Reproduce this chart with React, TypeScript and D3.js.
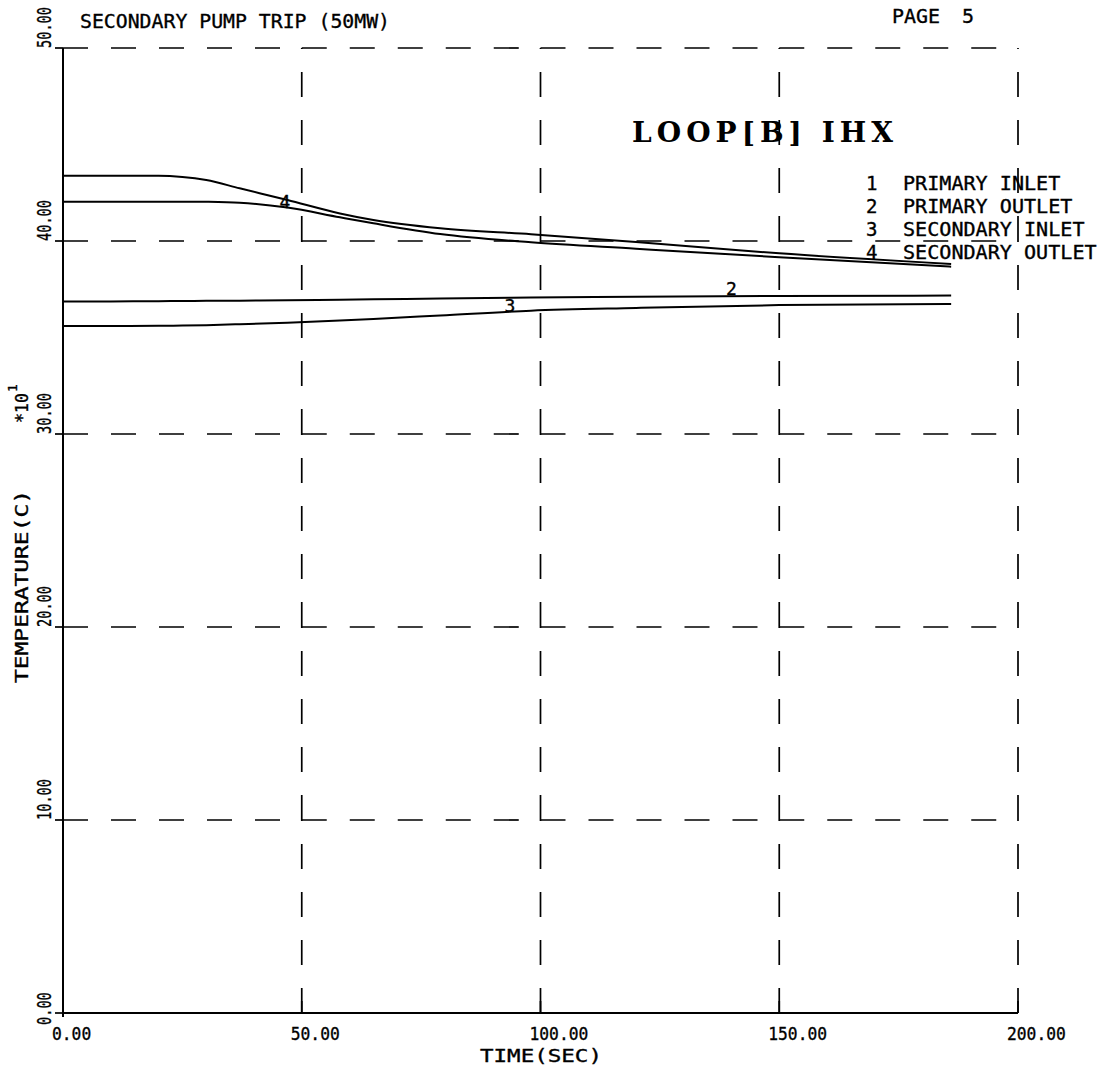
import React from 'react';
import * as d3 from 'd3';

// ---- data ----
const timeSec = [0, 10, 20, 25, 30, 37, 47, 58, 65, 79, 98, 120, 150, 186];
const primaryInlet = [43.38, 43.38, 43.38, 43.32, 43.16, 42.73, 42.12, 41.43, 41.09, 40.66, 40.35, 39.95, 39.36, 38.81];
const primaryOutlet = [36.86, 36.87, 36.88, 36.89, 36.9, 36.91, 36.93, 36.96, 36.98, 37.02, 37.07, 37.11, 37.15, 37.17];
const secondaryInlet = [35.6, 35.6, 35.61, 35.62, 35.64, 35.69, 35.77, 35.88, 35.96, 36.14, 36.39, 36.53, 36.68, 36.74];
const secondaryOutlet = [42.04, 42.04, 42.04, 42.04, 42.03, 41.98, 41.73, 41.23, 40.92, 40.36, 39.93, 39.6, 39.16, 38.67];

const xTicks = [0, 50, 100, 150, 200];
const yTicks = [0, 10, 20, 30, 40, 50];
const xTickLabels = ['0.00', '50.00', '100.00', '150.00', '200.00'];
const yTickLabels = ['0.00', '10.00', '20.00', '30.00', '40.00', '50.00'];
const legendNumbers = ['1', '2', '3', '4'];
const legendNames = ['PRIMARY INLET', 'PRIMARY OUTLET', 'SECONDARY INLET', 'SECONDARY OUTLET'];
const curveLabelText = ['4', '3', '2'];
const curveLabelTime = [46.5, 93.6, 140];
const curveLabelValue = [42.07, 36.68, 37.56];

const titleText = 'SECONDARY PUMP TRIP (50MW)';
const pageText = 'PAGE';
const pageNum = '5';
const plotTitle = 'LOOP[B] IHX';
const xTitle = 'TIME(SEC)';
const yTitle = 'TEMPERATURE(C)';

const W = 1100;
const H = 1068;
const FONT = "'DejaVu Sans Mono', 'Liberation Mono', monospace";
const TXT = { fontFamily: FONT, fill: '#000', stroke: '#000', strokeWidth: 0.35 } as const;

export default function App() {
  const x = d3.scaleLinear().domain([0, 200]).range([63, 1018]);
  const y = d3.scaleLinear().domain([0, 50]).range([1013, 48]);

  const series = [primaryInlet, primaryOutlet, secondaryInlet, secondaryOutlet];
  const line = d3
    .line<number>()
    .x((_, i) => x(timeSec[i]))
    .y((d) => y(d))
    .curve(d3.curveMonotoneX);

  const dash = '25 23';
  const grid: JSX.Element[] = [];
  yTicks.slice(1).forEach((v) => {
    for (let k = 0; k < xTicks.length - 1; k++) {
      grid.push(
        <line
          key={`h${v}-${k}`}
          x1={x(xTicks[k])}
          x2={x(xTicks[k + 1])}
          y1={y(v)}
          y2={y(v)}
          stroke="#000"
          strokeWidth={1.7}
          strokeDasharray={dash}
        />
      );
    }
  });
  xTicks.slice(1).forEach((t) => {
    for (let k = 0; k < yTicks.length - 1; k++) {
      grid.push(
        <line
          key={`v${t}-${k}`}
          x1={x(t)}
          x2={x(t)}
          y1={y(yTicks[k])}
          y2={y(yTicks[k + 1])}
          stroke="#000"
          strokeWidth={1.7}
          strokeDasharray={dash}
        />
      );
    }
  });

  return (
    <svg
      width={W}
      height={H}
      viewBox={`0 0 ${W} ${H}`}
      style={{ position: 'absolute', left: 0, top: 0, background: '#fff' }}
    >
      <rect width={W} height={H} fill="#fff" />
      {grid}

      {/* axes */}
      <line x1={x(0)} x2={x(0)} y1={y(0) + 4} y2={y(50)} stroke="#000" strokeWidth={2} />
      <line x1={x(0)} x2={x(200)} y1={y(0)} y2={y(0)} stroke="#000" strokeWidth={2} />
      {yTicks.map((v) => (
        <line key={`yt${v}`} x1={x(0) - 8} x2={x(0)} y1={y(v)} y2={y(v)} stroke="#000" strokeWidth={1.7} />
      ))}
      {xTicks.map((t) => (
        <line key={`xt${t}`} x1={x(t)} x2={x(t)} y1={y(0)} y2={y(0) - 12} stroke="#000" strokeWidth={1.7} />
      ))}

      {/* y tick labels (rotated) */}
      {yTicks.map((v, i) => (
        <text
          key={`yl${v}`}
          transform={`translate(51, ${y(v) + (v === 0 ? 12 : 0)}) rotate(-90)`}
          {...TXT}
          fontSize={19}
          textLength={yTickLabels[i].length * 8.2}
          lengthAdjust="spacingAndGlyphs"
        >
          {yTickLabels[i]}
        </text>
      ))}

      {/* x tick labels */}
      {xTicks.map((t, i) => (
        <text
          key={`xl${t}`}
          x={x(t) - 11}
          y={1040}
          {...TXT}
          fontSize={18}
          textLength={xTickLabels[i].length * 9.8}
          lengthAdjust="spacingAndGlyphs"
        >
          {xTickLabels[i]}
        </text>
      ))}

      {/* axis titles */}
      <text x={480} y={1062} {...TXT} fontSize={18} textLength={122} lengthAdjust="spacingAndGlyphs">
        {xTitle}
      </text>
      <g transform="translate(28, 683) rotate(-90)">
        <text x={0} y={0} {...TXT} fontSize={18} textLength={193} lengthAdjust="spacingAndGlyphs">
          {yTitle}
        </text>
        <text x={260} y={0} {...TXT} fontSize={18} textLength={30} lengthAdjust="spacingAndGlyphs">
          *10
        </text>
        <text x={291} y={-11} {...TXT} fontSize={13}>
          1
        </text>
      </g>

      {/* curves */}
      {series.map((s, i) => (
        <path key={`s${i}`} d={line(s) || ''} fill="none" stroke="#000" strokeWidth={2} />
      ))}
      {curveLabelText.map((c, i) => (
        <text
          key={`cl${i}`}
          x={x(curveLabelTime[i])}
          y={y(curveLabelValue[i])}
          dominantBaseline="central"
          textAnchor="middle"
          {...TXT}
          fontSize={18}
        >
          {c}
        </text>
      ))}

      {/* header */}
      <text x={80} y={28} {...TXT} fontSize={20} textLength={310} lengthAdjust="spacingAndGlyphs">
        {titleText}
      </text>
      <text x={892} y={23} {...TXT} fontSize={20} textLength={48} lengthAdjust="spacingAndGlyphs">
        {pageText}
      </text>
      <text x={962} y={23} {...TXT} fontSize={20}>
        {pageNum}
      </text>

      {/* plot title */}
      <text
        x={632}
        y={142}
        fontFamily="'DejaVu Serif', 'Liberation Serif', serif"
        fontWeight="bold"
        fontSize={28}
        textLength={261}
        lengthAdjust="spacing"
        fill="#000"
      >
        {plotTitle}
      </text>

      {/* legend */}
      {legendNumbers.map((n, i) => (
        <g key={`lg${n}`}>
          <text x={866} y={190 + i * 23} {...TXT} fontSize={19}>
            {n}
          </text>
          <text
            x={903}
            y={190 + i * 23}
            {...TXT}
            fontSize={19}
            textLength={legendNames[i].length * 12.1}
            lengthAdjust="spacingAndGlyphs"
          >
            {legendNames[i]}
          </text>
        </g>
      ))}
    </svg>
  );
}
